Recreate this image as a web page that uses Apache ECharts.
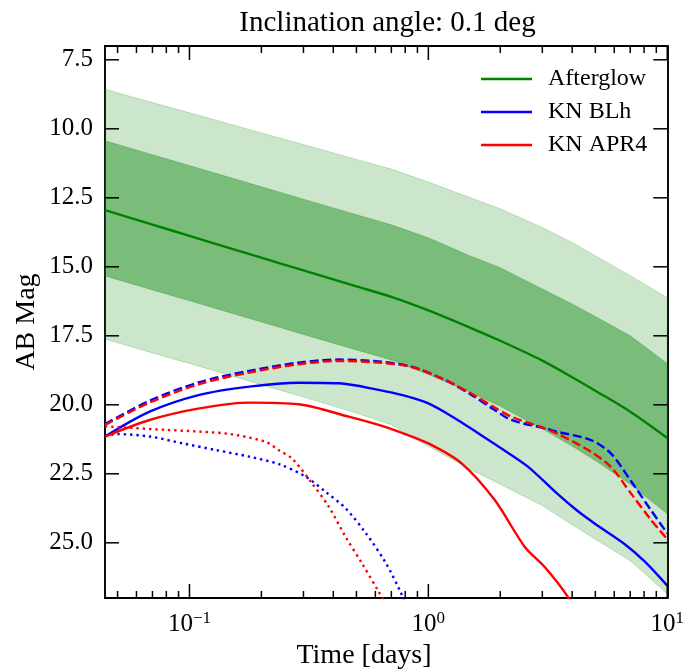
<!DOCTYPE html>
<html><head><meta charset="utf-8">
<script src="https://cdn.jsdelivr.net/npm/echarts@6/dist/echarts.min.js"></script>
<style>html,body{margin:0;padding:0;background:#fff}#c{width:687px;height:670px}</style>
</head><body><div id="c"></div>
<script>
// ---- data (time in days, AB magnitude) ----
const tBand = [0.0443, 0.07, 0.1, 0.2, 0.3, 0.5, 0.7, 1, 1.5, 2, 3, 4, 5, 7, 10];
const agMedian = [12.95, 13.47, 13.88, 14.67, 15.13, 15.71, 16.09, 16.58, 17.21, 17.68, 18.40, 19.0, 19.49, 20.25, 21.2];
const agInnerUpper = [10.43, 10.94, 11.33, 12.10, 12.55, 13.11, 13.48, 13.95, 14.61, 15.03, 15.8, 16.35, 16.8, 17.5, 18.5];
const agInnerLower = [15.33, 15.84, 16.23, 17.0, 17.45, 18.01, 18.38, 18.9, 19.55, 20.05, 20.87, 21.5, 22.02, 22.88, 23.95];
const agOuterUpper = [8.57, 9.05, 9.42, 10.15, 10.57, 11.11, 11.46, 11.93, 12.5, 12.9, 13.58, 14.12, 14.6, 15.32, 16.12];
const agOuterLower = [17.62, 18.12, 18.5, 19.27, 19.72, 20.3, 20.72, 21.5, 22.34, 22.88, 23.65, 24.35, 24.87, 25.65, 26.85];

const tBlhSolid = [0.0443, 0.0681, 0.110, 0.178, 0.287, 0.422, 0.619, 0.787, 1.0, 1.271, 1.616, 2.054, 2.61, 3.482, 4.217, 4.965, 6.64, 8.06, 10];
const mBlhSolid = [21.15, 20.25, 19.64, 19.34, 19.2, 19.22, 19.46, 19.66, 19.95, 20.45, 21.03, 21.62, 22.24, 23.24, 23.85, 24.3, 25.05, 25.68, 26.55];
const tApr4Solid = [0.0443, 0.0681, 0.110, 0.178, 0.287, 0.464, 0.619, 0.750, 1.0, 1.377, 1.896, 2.529, 3.064, 3.831, 5.0];
const mApr4Solid = [21.15, 20.55, 20.13, 19.92, 19.98, 20.43, 20.73, 20.97, 21.4, 22.12, 23.45, 25.14, 25.87, 26.95, 28.6];

const tDashed = [0.0443, 0.0681, 0.110, 0.178, 0.287, 0.422, 0.619, 0.85, 1.174, 1.515, 1.896, 2.224, 3.064, 3.482, 4.791, 5.804, 7.033, 8.52, 10];
const mBlhDashed = [20.70, 19.85, 19.18, 18.77, 18.47, 18.36, 18.43, 18.62, 19.1, 19.64, 20.19, 20.55, 20.85, 20.98, 21.28, 21.76, 22.75, 23.8, 24.66];
const mApr4Dashed = [20.73, 19.92, 19.25, 18.83, 18.53, 18.41, 18.47, 18.63, 19.1, 19.6, 20.1, 20.43, 20.85, 21.05, 21.7, 22.25, 23.2, 24.15, 24.87];

const tApr4Dotted = [0.0443, 0.0579, 0.0799, 0.110, 0.151, 0.209, 0.237, 0.269, 0.326, 0.383, 0.450, 0.527, 0.619, 0.72];
const mApr4Dotted = [20.78, 20.84, 20.91, 20.97, 21.07, 21.35, 21.65, 21.95, 22.85, 23.69, 24.78, 25.74, 26.77, 27.8];
const tBlhDotted = [0.0443, 0.0495, 0.0681, 0.0938, 0.129, 0.178, 0.237, 0.306, 0.371, 0.450, 0.545, 0.660, 0.762, 0.85];
const mBlhDotted = [21.12, 21.06, 21.15, 21.4, 21.64, 21.88, 22.15, 22.6, 23.15, 23.75, 24.63, 25.7, 26.75, 27.7];

const yTicks = [7.5, 10, 12.5, 15, 17.5, 20, 22.5, 25];
const xMajorTicks = [0.1, 1, 10];
const xMinorTicks = [0.05, 0.06, 0.07, 0.08, 0.09, 0.2, 0.3, 0.4, 0.5, 0.6, 0.7, 0.8, 0.9, 2, 3, 4, 5, 6, 7, 8, 9];
const legendNames = ['Afterglow', 'KN BLh', 'KN APR4'];
const titleText = 'Inclination angle: 0.1 deg';
const xName = 'Time [days]';
const yName = 'AB Mag';

// ---- chart ----
const FONT = 'Liberation Serif';
const xMin = 0.0443, xMax = 10, yMin = 7, yMax = 27;
const zip = (a, b) => a.map((v, i) => [v, b[i]]);
const LW = 2.4;

function band(name, upper, lower, fill, stroke, z) {
  return {
    type: 'custom', name: name, silent: true, z: z,
    data: [[1, 15]],
    renderItem: function (params, api) {
      const pts = [];
      for (let i = 0; i < tBand.length; i++) pts.push(api.coord([tBand[i], upper[i]]));
      for (let i = tBand.length - 1; i >= 0; i--) pts.push(api.coord([tBand[i], lower[i]]));
      return { type: 'polygon', shape: { points: pts }, style: { fill: fill, stroke: stroke, lineWidth: 1 } };
    }
  };
}
function line(name, t, m, color, type, z) {
  return {
    type: 'line', name: name, data: zip(t, m), showSymbol: false, symbol: 'none',
    smooth: 0.3, z: z, clip: true,
    lineStyle: { color: color, width: LW, type: type, cap: 'butt' },
    itemStyle: { color: color }, emphasis: { disabled: true }
  };
}
function tickRect(x, y, w, h) {
  return { type: 'rect', shape: { x: x, y: y, width: w, height: h }, style: { fill: '#000000' } };
}
const TW = 1.5;
// x ticks: horizontal position from the log scale, vertical from the grid rectangle (inside, top and bottom)
const xTickSeries = {
  type: 'custom', name: 'xticks', silent: true, z: 20, clip: false,
  data: [[1, 15]],
  renderItem: function (params, api) {
    const cs = params.coordSys;
    const top = cs.y, bottom = cs.y + cs.height;
    const ch = [];
    const addX = function (t, len) {
      const x = api.coord([t, 15])[0];
      ch.push(tickRect(x - TW / 2, bottom - len, TW, len));
      ch.push(tickRect(x - TW / 2, top, TW, len));
    };
    xMajorTicks.forEach(function (t) { addX(t, 14); });
    xMinorTicks.forEach(function (t) { addX(t, 7); });
    return { type: 'group', children: ch };
  }
};
// y ticks: vertical position from the value scale, horizontal from the grid rectangle (inside, left and right)
const yTickSeries = {
  type: 'custom', name: 'yticks', silent: true, z: 20, clip: false,
  data: [[1, 15]],
  renderItem: function (params, api) {
    const cs = params.coordSys;
    const left = cs.x, right = cs.x + cs.width;
    const ch = [];
    yTicks.forEach(function (v) {
      const y = api.coord([1, v])[1];
      ch.push(tickRect(left, y - TW / 2, 14, TW));
      ch.push(tickRect(right - 14, y - TW / 2, 14, TW));
    });
    return { type: 'group', children: ch };
  }
};

const axisLineStyle = { show: true, lineStyle: { color: '#000', width: 1.9 } };
const xBase = { type: 'log', logBase: 10, min: xMin, max: xMax, splitLine: { show: false }, minorTick: { show: false }, axisTick: { show: false } };
const xAxes = [
  Object.assign({}, xBase, {
    position: 'bottom', axisLine: axisLineStyle,
    axisLabel: {
      show: true, customValues: xMajorTicks, margin: 12,
      formatter: function (v) { const e = Math.round(Math.log10(v)); return '{b|10}{s|' + (e < 0 ? '\u2212' + (-e) : e) + '}'; },
      rich: {
        b: { fontFamily: FONT, fontSize: 25, color: '#000', verticalAlign: 'bottom' },
        s: { fontFamily: FONT, fontSize: 17, color: '#000', verticalAlign: 'top', padding: [0, 0, 10, 0] }
      }
    }
  }),
  Object.assign({}, xBase, { position: 'top', axisLine: axisLineStyle, axisLabel: { show: false } })
];
const yBase = { type: 'value', inverse: true, min: yMin, max: yMax, splitLine: { show: false },
  axisLine: axisLineStyle, axisTick: { show: false } };
const yAxes = [
  Object.assign({}, yBase, {
    position: 'left',
    axisLabel: { show: true, customValues: yTicks, margin: 12, fontFamily: FONT, fontSize: 25, color: '#000',
      formatter: function (v) { return v.toFixed(1); } }
  }),
  Object.assign({}, yBase, { position: 'right', axisLabel: { show: false } })
];

const chart = echarts.init(document.getElementById('c'), null, { renderer: 'canvas' });
chart.setOption({
  animation: false,
  backgroundColor: '#fff',
  title: { text: titleText, left: 387.5, top: 9, textAlign: 'center', padding: 0,
    textStyle: { fontFamily: FONT, fontSize: 29, fontWeight: 'normal', color: '#000' } },
  grid: { left: 105, right: 17, top: 46, bottom: 72, containLabel: false },
  legend: {
    data: legendNames, orient: 'vertical', left: 481, top: 67, padding: 0,
    itemWidth: 51, itemHeight: 24, itemGap: 9, icon: 'path://M0,10.8 L51,10.8 L51,13.2 L0,13.2 Z',
    textStyle: { fontFamily: FONT, fontSize: 24, color: '#000', padding: [0, 0, 0, 11] },
    selectedMode: false
  },
  xAxis: xAxes,
  yAxis: yAxes,
  graphic: [
    { type: 'text', x: 364, y: 656, style: { text: xName, align: 'center', verticalAlign: 'middle', font: '28px "Liberation Serif"', fill: '#000' } },
    { type: 'text', x: 27, y: 322, rotation: Math.PI / 2, style: { text: yName, align: 'center', verticalAlign: 'middle', font: '28px "Liberation Serif"', fill: '#000' } }
  ],
  series: [
    band('outer', agOuterUpper, agOuterLower, 'rgba(0,128,0,0.2)', 'rgba(0,128,0,0.2)', 1),
    band('inner', agInnerUpper, agInnerLower, 'rgba(0,128,0,0.4)', 'rgba(0,128,0,0.25)', 1),
    line('Afterglow', tBand, agMedian, '#008000', 'solid', 3),
    line('KN BLh', tBlhSolid, mBlhSolid, '#0000ff', 'solid', 4),
    line('blh-dashed', tDashed, mBlhDashed, '#0000ff', [8.9, 3.8], 4),
    line('blh-dotted', tBlhDotted, mBlhDotted, '#0000ff', [2.4, 3.9], 4),
    line('KN APR4', tApr4Solid, mApr4Solid, '#ff0000', 'solid', 5),
    line('apr4-dashed', tDashed, mApr4Dashed, '#ff0000', [8.9, 3.8], 5),
    line('apr4-dotted', tApr4Dotted, mApr4Dotted, '#ff0000', [2.4, 3.9], 5),
    xTickSeries,
    yTickSeries
  ]
});
</script>
</body></html>
